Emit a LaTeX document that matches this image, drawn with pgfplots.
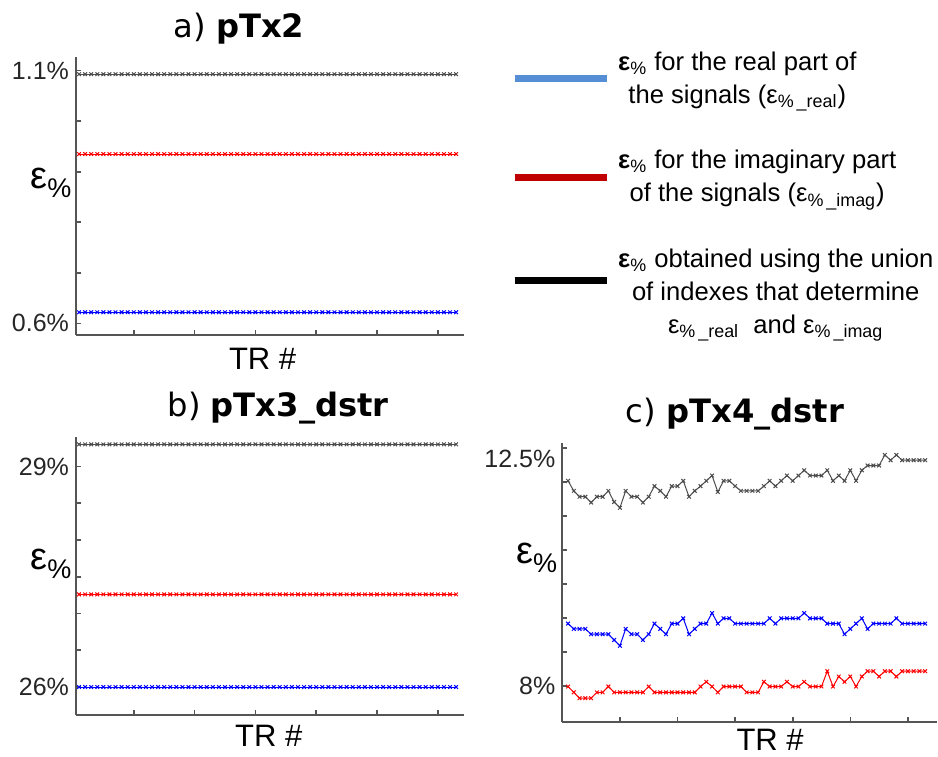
\documentclass[border=0pt]{standalone}
\usepackage{fontspec}
\setmainfont{Liberation Sans}
\newfontfamily\titlefont{DejaVu Sans}
\usepackage{pgfplots}
\usepackage{pgfplotstable}
\pgfplotsset{compat=1.18}

\definecolor{legblue}{RGB}{85,142,213}
\definecolor{legred}{RGB}{192,0,0}
\definecolor{axgray}{RGB}{85,85,85}

% x = TR #, a* = pTx2, b* = pTx3_dstr, c* = pTx4_dstr (r = real, i = imag, u = union)
\pgfplotstableread{
x ar ai au br bi bu cr ci cu
1 0.622 0.935 1.093 26.0 27.26 29.3 9.18 7.99 11.88
2 0.622 0.935 1.093 26.0 27.26 29.3 9.08 7.88 11.69
3 0.622 0.935 1.093 26.0 27.26 29.3 9.08 7.77 11.58
4 0.622 0.935 1.093 26.0 27.26 29.3 9.08 7.77 11.58
5 0.622 0.935 1.093 26.0 27.26 29.3 8.98 7.77 11.47
6 0.622 0.935 1.093 26.0 27.26 29.3 8.98 7.88 11.58
7 0.622 0.935 1.093 26.0 27.26 29.3 8.98 7.88 11.58
8 0.622 0.935 1.093 26.0 27.26 29.3 8.98 7.99 11.69
9 0.622 0.935 1.093 26.0 27.26 29.3 8.87 7.88 11.48
10 0.622 0.935 1.093 26.0 27.26 29.3 8.76 7.88 11.37
11 0.622 0.935 1.093 26.0 27.26 29.3 9.08 7.88 11.69
12 0.622 0.935 1.093 26.0 27.26 29.3 8.98 7.88 11.58
13 0.622 0.935 1.093 26.0 27.26 29.3 8.98 7.88 11.58
14 0.622 0.935 1.093 26.0 27.26 29.3 8.87 7.88 11.47
15 0.622 0.935 1.093 26.0 27.26 29.3 8.98 7.99 11.58
16 0.622 0.935 1.093 26.0 27.26 29.3 9.18 7.88 11.78
17 0.622 0.935 1.093 26.0 27.26 29.3 9.08 7.88 11.69
18 0.622 0.935 1.093 26.0 27.26 29.3 8.98 7.88 11.58
19 0.622 0.935 1.093 26.0 27.26 29.3 9.18 7.88 11.78
20 0.622 0.935 1.093 26.0 27.26 29.3 9.18 7.88 11.78
21 0.622 0.935 1.093 26.0 27.26 29.3 9.28 7.88 11.88
22 0.622 0.935 1.093 26.0 27.26 29.3 8.98 7.88 11.58
23 0.622 0.935 1.093 26.0 27.26 29.3 9.08 7.88 11.69
24 0.622 0.935 1.093 26.0 27.26 29.3 9.18 7.99 11.78
25 0.622 0.935 1.093 26.0 27.26 29.3 9.18 8.08 11.88
26 0.622 0.935 1.093 26.0 27.26 29.3 9.38 7.99 11.98
27 0.622 0.935 1.093 26.0 27.26 29.3 9.18 7.88 11.67
28 0.622 0.935 1.093 26.0 27.26 29.3 9.28 7.99 11.88
29 0.622 0.935 1.093 26.0 27.26 29.3 9.28 7.99 11.88
30 0.622 0.935 1.093 26.0 27.26 29.3 9.18 7.99 11.78
31 0.622 0.935 1.093 26.0 27.26 29.3 9.18 7.99 11.69
32 0.622 0.935 1.093 26.0 27.26 29.3 9.18 7.88 11.69
33 0.622 0.935 1.093 26.0 27.26 29.3 9.18 7.88 11.69
34 0.622 0.935 1.093 26.0 27.26 29.3 9.18 7.88 11.69
35 0.622 0.935 1.093 26.0 27.26 29.3 9.18 8.08 11.78
36 0.622 0.935 1.093 26.0 27.26 29.3 9.28 7.99 11.88
37 0.622 0.935 1.093 26.0 27.26 29.3 9.18 7.99 11.78
38 0.622 0.935 1.093 26.0 27.26 29.3 9.28 7.99 11.88
39 0.622 0.935 1.093 26.0 27.26 29.3 9.28 8.08 11.98
40 0.622 0.935 1.093 26.0 27.26 29.3 9.28 7.99 11.88
41 0.622 0.935 1.093 26.0 27.26 29.3 9.28 7.99 11.98
42 0.622 0.935 1.093 26.0 27.26 29.3 9.38 8.08 12.08
43 0.622 0.935 1.093 26.0 27.26 29.3 9.28 7.99 11.98
44 0.622 0.935 1.093 26.0 27.26 29.3 9.28 7.99 11.98
45 0.622 0.935 1.093 26.0 27.26 29.3 9.28 7.99 11.98
46 0.622 0.935 1.093 26.0 27.26 29.3 9.18 8.28 12.08
47 0.622 0.935 1.093 26.0 27.26 29.3 9.18 7.99 11.88
48 0.622 0.935 1.093 26.0 27.26 29.3 9.18 8.18 11.98
49 0.622 0.935 1.093 26.0 27.26 29.3 8.98 8.08 11.88
50 0.622 0.935 1.093 26.0 27.26 29.3 9.08 8.18 12.08
51 0.622 0.935 1.093 26.0 27.26 29.3 9.18 7.99 11.88
52 0.622 0.935 1.093 26.0 27.26 29.3 9.28 8.18 12.08
53 0.622 0.935 1.093 26.0 27.26 29.3 9.08 8.28 12.17
54 0.622 0.935 1.093 26.0 27.26 29.3 9.18 8.28 12.17
55 0.622 0.935 1.093 26.0 27.26 29.3 9.18 8.18 12.17
56 0.622 0.935 1.093 26.0 27.26 29.3 9.18 8.28 12.37
57 0.622 0.935 1.093 26.0 27.26 29.3 9.18 8.28 12.27
58 0.622 0.935 1.093 26.0 27.26 29.3 9.28 8.18 12.37
59 0.622 0.935 1.093 26.0 27.26 29.3 9.18 8.28 12.27
60 0.622 0.935 1.093 26.0 27.26 29.3 9.18 8.28 12.27
61 0.622 0.935 1.093 26.0 27.26 29.3 9.18 8.28 12.27
62 0.622 0.935 1.093 26.0 27.26 29.3 9.18 8.28 12.27
63 0.622 0.935 1.093 26.0 27.26 29.3 9.18 8.28 12.27
}\errtable

\newcommand{\epslabel}{{\fontsize{19}{19}\selectfont ε}\raisebox{-4.5pt}{\fontsize{13.5}{13.5}\selectfont\%}}

\pgfplotsset{
  panel/.style={
    scale only axis,
    axis lines*=left,
    axis line style={axgray, line width=1pt, -},
    tick align=inside,
    major tick length=2.5pt,
    tick style={axgray, line width=0.8pt},
    xtick={10,20,30,40,50,60},
    xticklabels={},
    ticklabel style={font=\fontsize{12.5}{12.5}\selectfont, text=black!85},
    xlabel={TR \#},
    xlabel style={font=\fontsize{15.5}{15.5}\selectfont, anchor=base, inner sep=0pt},
    ylabel={\epslabel},
    ylabel style={rotate=-90, anchor=east, inner sep=0pt},
    title style={font=\titlefont\fontsize{16.1}{16.1}\selectfont, anchor=base, inner sep=0pt},
  },
  ser/.style={line width=0.5pt, mark=x, mark size=1.3pt},
  legbar/.style={legend image code/.code={\draw[##1, line width=3.5pt] (0pt,0pt) -- (46pt,0pt);}},
  legbarhigh/.style={legend image code/.code={\draw[##1, line width=3.5pt] (0pt,6pt) -- (46pt,6pt);}},
}

\begin{document}
\begin{tikzpicture}
\useasboundingbox (0pt,0pt) rectangle (469pt,378pt);

% a) pTx2
\begin{axis}[panel,
  at={(38pt,210.5pt)}, anchor=south west,
  width=194pt, height=139pt,
  xmin=0.5, xmax=64.3, ymin=0.577, ymax=1.127,
  ytick={0.6,0.7,0.8,0.9,1.0,1.1},
  yticklabels={0.6\%,,,,,1.1\%},
  title={a) {\bfseries pTx2}},
  title style={at={(axis description cs:0.42,1)}, yshift=4pt},
  xlabel style={at={(axis description cs:0.481,0)}, yshift=-17.5pt},
  ylabel style={at={(axis description cs:-0.011,0.547)}},
  legend style={at={(axis description cs:1.105,1.05)}, anchor=north west,
    draw=none, fill=none, font=\fontsize{12.8}{16.5}\selectfont,
    row sep=18pt, cells={align=center}, column sep=2pt},
  legend cell align=left,
]
\addplot[ser, blue, forget plot] table[x=x, y=ar] {\errtable};
\addplot[ser, red, forget plot] table[x=x, y=ai] {\errtable};
\addplot[ser, black!70, forget plot] table[x=x, y=au] {\errtable};
\addlegendimage{legblue, legbar}
\addlegendentry{{\bfseries ε}\textsubscript{\%} for the real part of\\the signals (ε\textsubscript{\%\,\_real})}
\addlegendimage{legred, legbar}
\addlegendentry{{\bfseries ε}\textsubscript{\%} for the imaginary part\\of the signals (ε\textsubscript{\%\,\_imag})}
\addlegendimage{black, legbarhigh}
\addlegendentry{{\bfseries ε}\textsubscript{\%} obtained using the union\\of indexes that determine\\ε\textsubscript{\%\,\_real}\ \ and ε\textsubscript{\%\,\_imag}}
\end{axis}

% b) pTx3_dstr
\begin{axis}[panel,
  at={(38pt,20.5pt)}, anchor=south west,
  width=194pt, height=139pt,
  xmin=0.5, xmax=64.3, ymin=25.62, ymax=29.40,
  ytick={26,26.5,27,27.5,28,28.5,29},
  yticklabels={26\%,,,,,,29\%},
  title={b) {\bfseries pTx3\_dstr}},
  title style={at={(axis description cs:0.521,1)}, yshift=4pt},
  xlabel style={at={(axis description cs:0.497,0)}, yshift=-15.85pt},
  ylabel style={at={(axis description cs:-0.011,0.543)}},
]
\addplot[ser, blue] table[x=x, y=br] {\errtable};
\addplot[ser, red] table[x=x, y=bi] {\errtable};
\addplot[ser, black!70] table[x=x, y=bu] {\errtable};
\end{axis}

% c) pTx4_dstr
\begin{axis}[panel,
  at={(281.15pt,17.15pt)}, anchor=south west,
  width=187.2pt, height=139.2pt,
  xmin=0, xmax=65, ymin=7.325, ymax=12.59,
  ytick={8,8.642857,9.285714,9.928571,10.571429,11.214286,11.857143},
  yticklabels={8\%,,,,,,},
  extra y ticks={12.5},
  extra y tick labels={12.5\%},
  extra y tick style={yticklabel style={yshift=-5.5pt}},
  title={c) {\bfseries pTx4\_dstr}},
  title style={at={(axis description cs:0.461,1)}, yshift=4.15pt},
  xlabel style={at={(axis description cs:0.555,0)}, yshift=-14.6pt},
  ylabel style={at={(axis description cs:-0.013,0.59)}},
]
\addplot[ser, blue] table[x=x, y=cr] {\errtable};
\addplot[ser, red] table[x=x, y=ci] {\errtable};
\addplot[ser, black!70] table[x=x, y=cu] {\errtable};
\end{axis}
\end{tikzpicture}
\end{document}
